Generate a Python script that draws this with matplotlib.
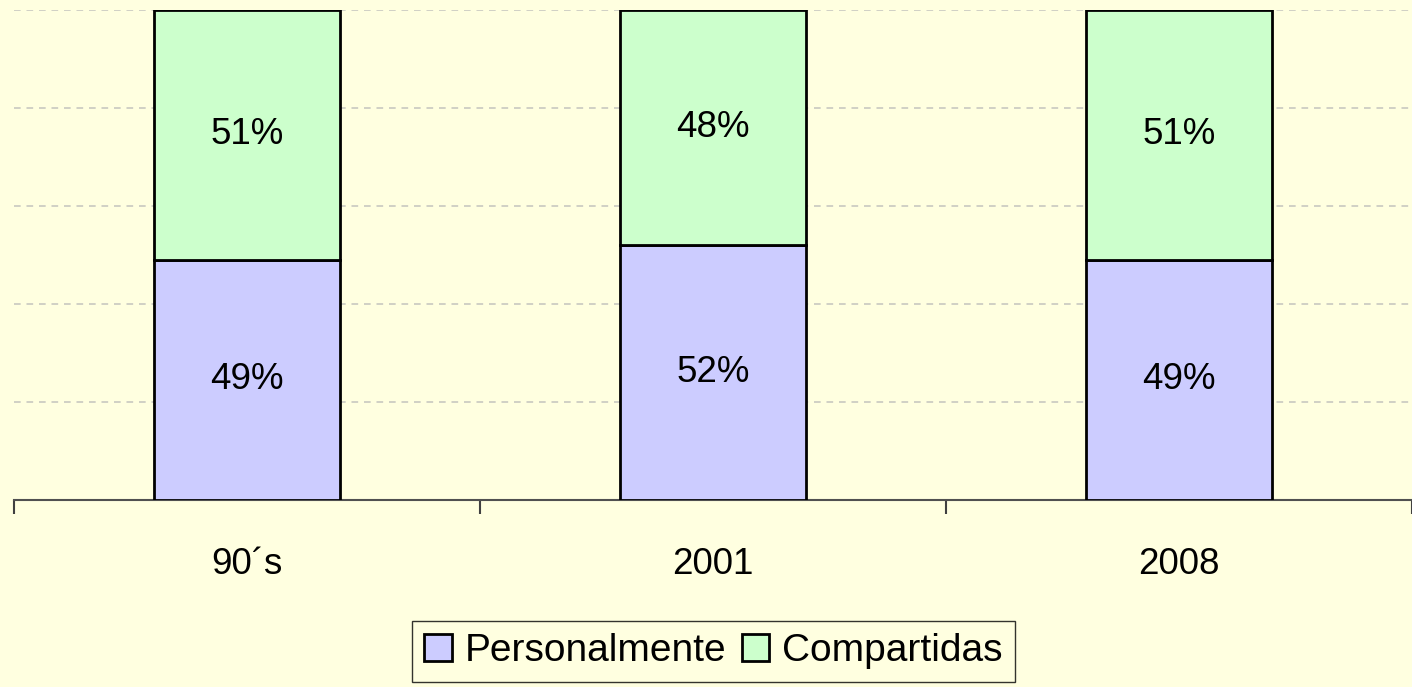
import matplotlib.pyplot as plt
import numpy as np

# Datos
categorias = ['90´s', '2001', '2008']
personalmente = [49, 52, 49]
compartidas = [51, 48, 51]

fondo = '#FFFFE0'
color_pers = '#CCCCFF'
color_comp = '#CCFFCC'

plt.rcParams['font.family'] = ['Liberation Sans', 'DejaVu Sans']

fig = plt.figure(figsize=(14.12, 6.87), dpi=100, facecolor=fondo)
ax = fig.add_axes([14 / 1412, 1 - 500 / 687, 1398 / 1412, 490 / 687])
ax.set_facecolor(fondo)

x = np.arange(len(categorias))
ancho = 0.40
b1 = ax.bar(x, personalmente, ancho, color=color_pers, edgecolor='black',
            linewidth=2, label='Personalmente', zorder=3)
b2 = ax.bar(x, compartidas, ancho, bottom=personalmente, color=color_comp,
            edgecolor='black', linewidth=2, label='Compartidas', zorder=3)

for i in range(len(categorias)):
    ax.text(x[i], personalmente[i] / 2, f'{personalmente[i]}%',
            ha='center', va='center', fontsize=26.5, zorder=4)
    ax.text(x[i], personalmente[i] + compartidas[i] / 2, f'{compartidas[i]}%',
            ha='center', va='center', fontsize=26.5, zorder=4)

ax.set_xlim(-0.5, 2.5)
ax.set_ylim(0, 100)

ax.set_yticks([20, 40, 60, 80, 100])
ax.yaxis.grid(True, color='#C8C8C0', linestyle=(0, (4, 3.5)), linewidth=1.2, zorder=1)
ax.tick_params(axis='y', left=False, labelleft=False)

ax.set_xticks([-0.5, 0.5, 1.5, 2.5])
ax.set_xticklabels([])
ax.set_xticks(x, minor=True)
ax.set_xticklabels(categorias, minor=True, fontsize=26.5)
ax.tick_params(axis='x', which='major', direction='out', length=10, width=1.5, color='#404040')
ax.tick_params(axis='x', which='minor', length=0, pad=34)

for s in ['top', 'right', 'left']:
    ax.spines[s].set_visible(False)
ax.spines['bottom'].set_color('#505050')
ax.spines['bottom'].set_linewidth(1.5)

leg = fig.legend(handles=[b1, b2], loc='upper left', bbox_to_anchor=(412 / 1412, 1 - 621 / 687),
                 ncol=2, fontsize=28, frameon=True, fancybox=False, edgecolor='black',
                 facecolor=fondo, handlelength=0.7, handleheight=0.7, handletextpad=0.33,
                 columnspacing=0.4, borderpad=0.32, borderaxespad=0)
leg.get_frame().set_linewidth(1)

fig.savefig('out.png', dpi=100, facecolor=fondo)
